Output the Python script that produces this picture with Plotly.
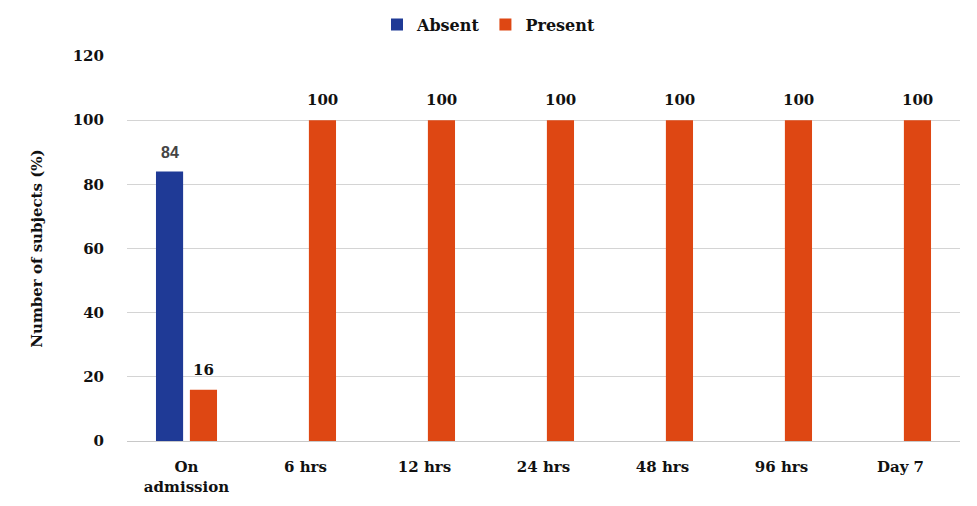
import plotly.graph_objects as go

categories = ["On<br>admission", "6 hrs", "12 hrs", "24 hrs", "48 hrs", "96 hrs", "Day 7"]
absent = [84, 0, 0, 0, 0, 0, 0]
present = [16, 100, 100, 100, 100, 100, 100]
y_ticks = [0, 20, 40, 60, 80, 100, 120]

BLUE = "#1F3A96"
ORANGE = "#DE4713"
SERIF = "DejaVu Serif"

fig = go.Figure()
fig.add_trace(go.Bar(name="Absent", x=categories, y=absent, marker_color=BLUE))
fig.add_trace(go.Bar(name="Present", x=categories, y=present, marker_color=ORANGE))
fig.update_traces(marker_line_width=0)

# value labels above the non-zero bars, offset to each bar within its group
label_styles = [
    (absent, -17, dict(family="Liberation Sans", size=16, color="#444444", weight="bold")),
    (present, 17, dict(family=SERIF, size=15, color="#111111", weight="bold")),
]
for vals, dx, font in label_styles:
    for cat, v in zip(categories, vals):
        if v:
            fig.add_annotation(x=cat, y=v, xref="x", yref="y", text=str(v),
                               showarrow=False, xshift=dx, yanchor="bottom",
                               yshift=9, font=font)

fig.update_layout(
    width=977, height=506,
    margin=dict(l=127, r=17, t=56, b=65, autoexpand=False),
    paper_bgcolor="white", plot_bgcolor="white",
    barmode="group", bargap=0.43, bargroupgap=0.2,
    font=dict(family=SERIF, size=15, color="#111111", weight="bold"),
    legend=dict(orientation="h", x=0.5, xanchor="center", xref="container",
                y=0.985, yanchor="top", yref="container",
                font=dict(family=SERIF, size=16, weight="bold"),
                itemwidth=30, traceorder="normal"),
    showlegend=True,
    yaxis=dict(range=[0, 120], tickvals=y_ticks, showgrid=True, gridcolor="#D4D4D4",
               gridwidth=1.3, zeroline=False, showline=False, ticks="",
               ticklabelstandoff=22,
               tickfont=dict(family=SERIF, size=15, weight="bold"),
               title=dict(text="Number of subjects (%)", standoff=26,
                          font=dict(family=SERIF, size=15, weight="bold"))),
    xaxis=dict(showline=True, linecolor="#C8C8C8", linewidth=1.3, ticks="",
               ticklabelstandoff=12,
               tickfont=dict(family=SERIF, size=15, weight="bold")),
)

fig.write_html("out.html")
